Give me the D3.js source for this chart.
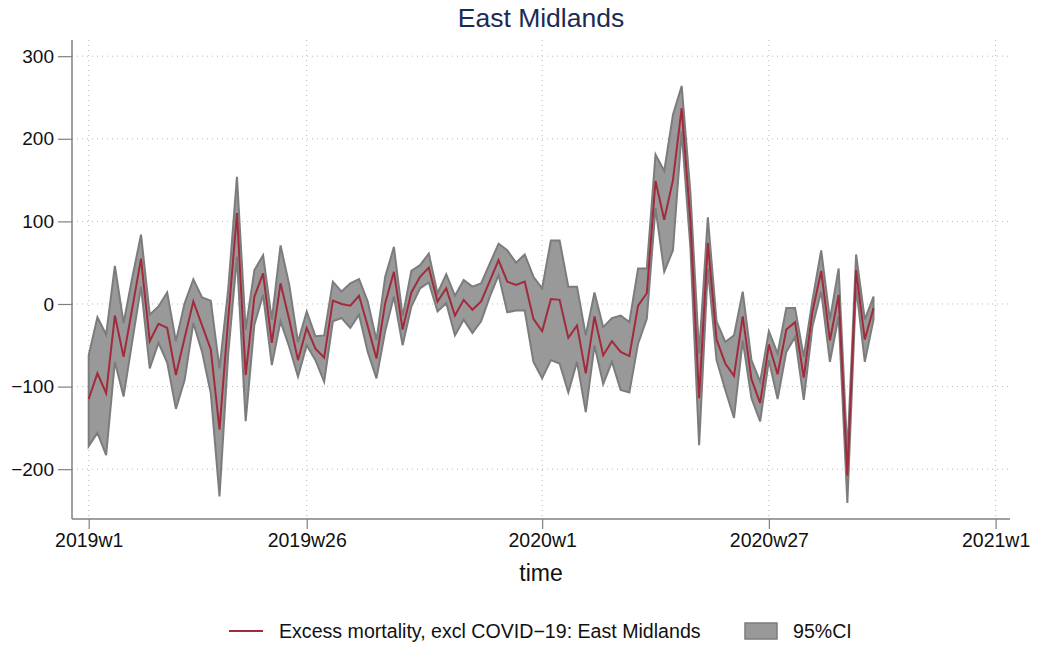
<!DOCTYPE html>
<html>
<head>
<meta charset="utf-8">
<script src="https://cdn.jsdelivr.net/npm/d3@7/dist/d3.min.js"></script>
<style>
  html, body { margin: 0; padding: 0; background: #fff; }
  svg { display: block; font-family: "Liberation Sans", Arial, Helvetica, sans-serif; }
</style>
</head>
<body>
<svg id="chart" width="1038" height="646"></svg>
<script>
// ---- data (week index 0 = 2019w1; Stata weekly: 52 weeks per year) ----
const estimate = [-115, -84, -108, -14, -64, -5, 55, -45, -24, -29,
  -86, -41, 3, -26, -55, -152, -18, 110, -86, 9,
  37, -47, 25, -19, -68, -29, -54, -65, 4, 0,
  -2, 10, -27, -66, 1, 39, -31, 14, 33, 44,
  3, 19, -14, 5, -7, 3, 28, 53, 27, 23,
  27, -18, -33, 6, 5, -41, -26, -84, -15, -62,
  -45, -58, -63, -2, 13, 149, 102, 150, 237, 100,
  -114, 74, -43, -72, -87, -15, -91, -120, -49, -85,
  -31, -22, -89, -9, 40, -44, 11, -208, 41, -43, -5];
const upperCI = [-62, -16, -37, 46, -23, 32, 84, -13, -3, 14,
  -45, 1, 30, 8, 4, -78, 18, 154, -31, 41,
  59, -19, 71, 23, -46, -9, -39, -38, 27, 15,
  25, 30, 3, -44, 33, 69, -15, 40, 47, 61,
  13, 36, 10, 29, 21, 25, 49, 73, 65, 50,
  60, 33, 19, 77, 77, 21, 21, -38, 14, -28,
  -17, -14, -22, 43, 43, 181, 161, 229, 264, 135,
  -60, 105, -21, -46, -38, 15, -68, -94, -33, -60,
  -5, -5, -64, 5, 65, -19, 43, -181, 60, -19, 9];
const lowerCI = [-172, -156, -183, -70, -112, -45, 21, -78, -47, -71,
  -127, -92, -23, -58, -108, -233, -60, 57, -142, -25,
  11, -74, -21, -52, -88, -50, -68, -94, -21, -17,
  -29, -13, -58, -90, -33, 9, -50, -3, 19, 26,
  -9, 1, -38, -19, -35, -21, 9, 35, -10, -8,
  -8, -70, -90, -68, -72, -107, -70, -131, -50, -97,
  -70, -104, -107, -48, -18, 116, 39, 65, 209, 68,
  -171, 43, -68, -104, -138, -44, -114, -142, -68, -115,
  -58, -40, -116, -27, 15, -70, -15, -241, 21, -70, -19];
const weekIndex = d3.range(estimate.length);

const xTickValues = [0, 25, 52, 78, 104];
const xTickLabels = ["2019w1", "2019w26", "2020w1", "2020w27", "2021w1"];
const yTickValues = [-200, -100, 0, 100, 200, 300];

const titleText = "East Midlands";
const xTitle = "time";
const lineLabel = "Excess mortality, excl COVID\u221219: East Midlands";
const bandLabel = "95%CI";

// ---- layout ----
const svg = d3.select("#chart");
const plot = { left: 72, right: 1010, top: 40, bottom: 519 };
const x = d3.scaleLinear().domain([-1.915, 105.65]).range([plot.left, plot.right]);
const y = d3.scaleLinear().domain([-260.3, 319.6]).range([plot.bottom, plot.top]);

const lineColor = "#a22b3b";
const bandFill = "#999999";
const bandStroke = "#7c7c7c";
const axisColor = "#808080";
const gridColor = "#b8b8b8";

svg.append("rect").attr("width", 1038).attr("height", 646).attr("fill", "#fff");

// grid
const grid = svg.append("g");
grid.selectAll("line.h").data(yTickValues).join("line")
  .attr("x1", plot.left).attr("x2", plot.right)
  .attr("y1", d => y(d)).attr("y2", d => y(d))
  .attr("stroke", gridColor).attr("stroke-width", 1)
  .attr("stroke-dasharray", "1,4");
grid.selectAll("line.v").data(xTickValues).join("line")
  .attr("y1", plot.top).attr("y2", plot.bottom)
  .attr("x1", d => x(d)).attr("x2", d => x(d))
  .attr("stroke", gridColor).attr("stroke-width", 1)
  .attr("stroke-dasharray", "1,4");

// band
const area = d3.area()
  .x((d, i) => x(weekIndex[i]))
  .y0((d, i) => y(lowerCI[i]))
  .y1((d, i) => y(upperCI[i]));
svg.append("path").datum(estimate)
  .attr("d", area)
  .attr("fill", bandFill)
  .attr("stroke", bandStroke)
  .attr("stroke-width", 2)
  .attr("stroke-linejoin", "miter");

// line
const line = d3.line()
  .x((d, i) => x(weekIndex[i]))
  .y(d => y(d));
svg.append("path").datum(estimate)
  .attr("d", line)
  .attr("fill", "none")
  .attr("stroke", lineColor)
  .attr("stroke-width", 2)
  .attr("stroke-linejoin", "miter");

// axes
const fmt = d => (d < 0 ? "\u2212" + Math.abs(d) : String(d));
const yAxis = d3.axisLeft(y).tickValues(yTickValues).tickFormat(fmt).tickSize(14).tickPadding(4);
const gy = svg.append("g").attr("transform", `translate(${plot.left},0)`).call(yAxis);
gy.select(".domain").attr("stroke", axisColor).attr("stroke-width", 1.5)
  .attr("d", `M0,${plot.top}V${plot.bottom}`);
gy.selectAll(".tick line").attr("stroke", axisColor).attr("stroke-width", 1.2);
gy.selectAll(".tick text").attr("font-size", 19).attr("fill", "#111")
  .attr("font-family", '"Liberation Sans", Arial, sans-serif');

const xAxis = d3.axisBottom(x).tickValues(xTickValues)
  .tickFormat((d, i) => xTickLabels[i]).tickSize(10).tickPadding(4);
const gx = svg.append("g").attr("transform", `translate(0,${plot.bottom})`).call(xAxis);
gx.select(".domain").attr("stroke", axisColor).attr("stroke-width", 1.5)
  .attr("d", `M${plot.left},0H${plot.right}`);
gx.selectAll(".tick line").attr("stroke", axisColor).attr("stroke-width", 1.2);
gx.selectAll(".tick text").attr("font-size", 19.5).attr("fill", "#111")
  .attr("font-family", '"Liberation Sans", Arial, sans-serif');

// titles
svg.append("text").attr("x", 541).attr("y", 27).attr("text-anchor", "middle")
  .attr("font-size", 26.5).attr("fill", "#1c2b55").text(titleText);
svg.append("text").attr("x", 541).attr("y", 581).attr("text-anchor", "middle")
  .attr("font-size", 23).attr("fill", "#111").text(xTitle);

// legend
const lg = svg.append("g");
lg.append("line").attr("x1", 229).attr("x2", 263).attr("y1", 631).attr("y2", 631)
  .attr("stroke", lineColor).attr("stroke-width", 2);
lg.append("text").attr("x", 279).attr("y", 638).attr("font-size", 19.6).attr("fill", "#111").text(lineLabel);
lg.append("rect").attr("x", 745).attr("y", 623).attr("width", 32).attr("height", 16)
  .attr("fill", bandFill).attr("stroke", bandStroke).attr("stroke-width", 1.5);
lg.append("text").attr("x", 793).attr("y", 638).attr("font-size", 19.6).attr("fill", "#111").text(bandLabel);
</script>
</body>
</html>
